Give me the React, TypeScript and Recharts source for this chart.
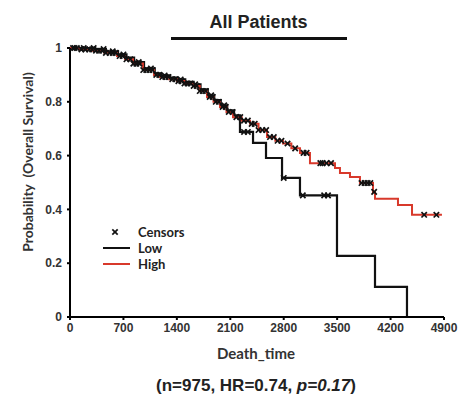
import React from 'react';
import {
  ComposedChart,
  Line,
  Scatter,
  XAxis,
  YAxis,
} from 'recharts';

// Kaplan-Meier steps (days, survival)
const highTimes = [0, 120, 300, 450, 616, 720, 825, 956, 1100, 1179, 1300, 1402, 1500, 1611, 1700, 1795, 1880, 1965, 2050, 2136, 2250, 2358, 2470, 2581, 2690, 2791, 2900, 3013, 3144, 3472, 3537, 3668, 3799, 3970, 3996, 4297, 4481, 4873];
const highSurv = [1, 0.995, 0.99, 0.982, 0.97, 0.958, 0.942, 0.918, 0.9, 0.892, 0.884, 0.877, 0.868, 0.859, 0.84, 0.818, 0.8, 0.781, 0.762, 0.743, 0.73, 0.718, 0.695, 0.669, 0.655, 0.645, 0.627, 0.61, 0.572, 0.554, 0.535, 0.52, 0.498, 0.465, 0.44, 0.416, 0.38, 0.38];

const lowTimes = [0, 330, 470, 630, 740, 840, 970, 1110, 1190, 1310, 1410, 1510, 1620, 1710, 1805, 1890, 1975, 2060, 2150, 2227, 2398, 2568, 2778, 3013, 3498, 3996, 4415];
const lowSurv = [1, 0.996, 0.988, 0.976, 0.964, 0.948, 0.924, 0.906, 0.898, 0.89, 0.883, 0.874, 0.865, 0.846, 0.824, 0.806, 0.787, 0.768, 0.75, 0.688, 0.647, 0.591, 0.517, 0.452, 0.227, 0.112, 0];

// censored observations
const highCensorTimes = [40, 90, 150, 200, 250, 290, 340, 380, 420, 470, 520, 560, 600, 650, 690, 740, 790, 830, 870, 910, 960, 1000, 1040, 1080, 1130, 1170, 1210, 1250, 1290, 1340, 1380, 1420, 1460, 1500, 1540, 1580, 1620, 1660, 1700, 1740, 1780, 1830, 1870, 1910, 1950, 2000, 2040, 2080, 2130, 2180, 2230, 2280, 2330, 2380, 2420, 2470, 2520, 2570, 2620, 2670, 2720, 2770, 2850, 2950, 3060, 3100, 3280, 3310, 3360, 3420, 3820, 3860, 3900, 3935, 3985, 4640, 4800];
const lowCensorTimes = [60, 180, 310, 440, 560, 700, 900, 1060, 1240, 1450, 1640, 1850, 2020, 2280, 2330, 2800, 3050, 3330, 3380];

const xTicks = [0, 700, 1400, 2100, 2800, 3500, 4200, 4900];
const yTicks = [0, 0.2, 0.4, 0.6, 0.8, 1];

const toRows = (times: number[], surv: number[]) => times.map((t, i) => ({ t, s: surv[i] }));

// survival value in effect at time t (step function lookup)
const survAt = (times: number[], surv: number[], t: number) => {
  let v = surv[0];
  for (let i = 0; i < times.length; i++) {
    if (times[i] <= t) v = surv[i];
  }
  return v;
};

const highData = toRows(highTimes, highSurv);
const lowData = toRows(lowTimes, lowSurv);
const censorData = [
  ...highCensorTimes.map((t) => ({ t, s: survAt(highTimes, highSurv, t) })),
  ...lowCensorTimes.map((t) => ({ t, s: survAt(lowTimes, lowSurv, t) })),
];

const RED = '#d8392b';

const Cross = (props: any) => {
  const { cx, cy } = props;
  if (cx == null || cy == null) return null;
  const r = 2.7;
  return (
    <g stroke="#111" strokeWidth={1.7}>
      <line x1={cx - r} y1={cy - r} x2={cx + r} y2={cy + r} />
      <line x1={cx - r} y1={cy + r} x2={cx + r} y2={cy - r} />
    </g>
  );
};

const tickStyle = { fontSize: 12, fontWeight: 700, fill: '#333', fontFamily: '"Liberation Sans", Arial, sans-serif' };
const labelFont = 'Lato, "Open Sans", sans-serif';

export default function App() {
  return (
    <div style={{ position: 'absolute', left: 0, top: 0, width: 461, height: 397, background: '#fff' }}>
      <ComposedChart
        width={461}
        height={397}
        margin={{ top: 48, right: 17, left: 0, bottom: 50 }}
      >
        <XAxis
          type="number"
          dataKey="t"
          domain={[0, 4900]}
          ticks={xTicks}
          interval={0}
          height={30}
          tick={tickStyle}
          tickSize={3}
          tickMargin={3}
          axisLine={{ stroke: '#000', strokeWidth: 2 }}
          tickLine={{ stroke: '#000', strokeWidth: 2 }}
          allowDuplicatedCategory={false}
        />
        <YAxis
          type="number"
          dataKey="s"
          domain={[0, 1]}
          ticks={yTicks}
          interval={0}
          width={70}
          tick={tickStyle}
          tickFormatter={(v) => String(v)}
          tickSize={3}
          tickMargin={5}
          axisLine={{ stroke: '#000', strokeWidth: 2 }}
          tickLine={{ stroke: '#000', strokeWidth: 2 }}
        />
        <Line
          data={lowData}
          dataKey="s"
          type="stepAfter"
          stroke="#111"
          strokeWidth={2.2}
          dot={false}
          isAnimationActive={false}
        />
        <Line
          data={highData}
          dataKey="s"
          type="stepAfter"
          stroke={RED}
          strokeWidth={2}
          dot={false}
          isAnimationActive={false}
        />
        <Scatter
          data={censorData}
          dataKey="s"
          shape={<Cross />}
          isAnimationActive={false}
        />
      </ComposedChart>

      {/* title */}
      <div style={{ position: 'absolute', left: 170, width: 177, top: 12, textAlign: 'center', fontFamily: '"Liberation Sans", Arial, sans-serif', fontWeight: 700, fontSize: 18, color: '#222' }}>
        All Patients
      </div>
      <div style={{ position: 'absolute', left: 171, width: 176, top: 37, height: 3, background: '#111' }} />

      {/* y axis title */}
      <div style={{ position: 'absolute', left: 27, top: 162, transform: 'translate(-50%, -50%) rotate(-90deg)', whiteSpace: 'nowrap', fontFamily: labelFont, fontWeight: 700, fontSize: 14, color: '#333' }}>
        Probability&nbsp;&nbsp;(Overall Survival)
      </div>

      {/* x axis title */}
      <div style={{ position: 'absolute', left: 256, top: 353, transform: 'translate(-50%, -50%)', whiteSpace: 'nowrap', fontFamily: labelFont, fontWeight: 700, fontSize: 15, color: '#333' }}>
        Death_time
      </div>

      {/* stats */}
      <div style={{ position: 'absolute', left: 256, top: 386, transform: 'translate(-50%, -50%)', whiteSpace: 'nowrap', fontFamily: '"Liberation Sans", Arial, sans-serif', fontWeight: 700, fontSize: 17, color: '#222' }}>
        (n=975, HR=0.74, <i>p=0.17</i>)
      </div>

      {/* legend */}
      <svg style={{ position: 'absolute', left: 0, top: 0 }} width={461} height={397}>
        <Cross cx={115} cy={232} />
        <line x1={103} y1={248} x2={130} y2={248} stroke="#111" strokeWidth={2} />
        <line x1={103} y1={264} x2={130} y2={264} stroke={RED} strokeWidth={2} />
        <g fontFamily={labelFont} fontWeight={700} fontSize={13} fill="#222">
          <text x={138} y={236.5}>Censors</text>
          <text x={138} y={252.5}>Low</text>
          <text x={138} y={268.5}>High</text>
        </g>
      </svg>
    </div>
  );
}
